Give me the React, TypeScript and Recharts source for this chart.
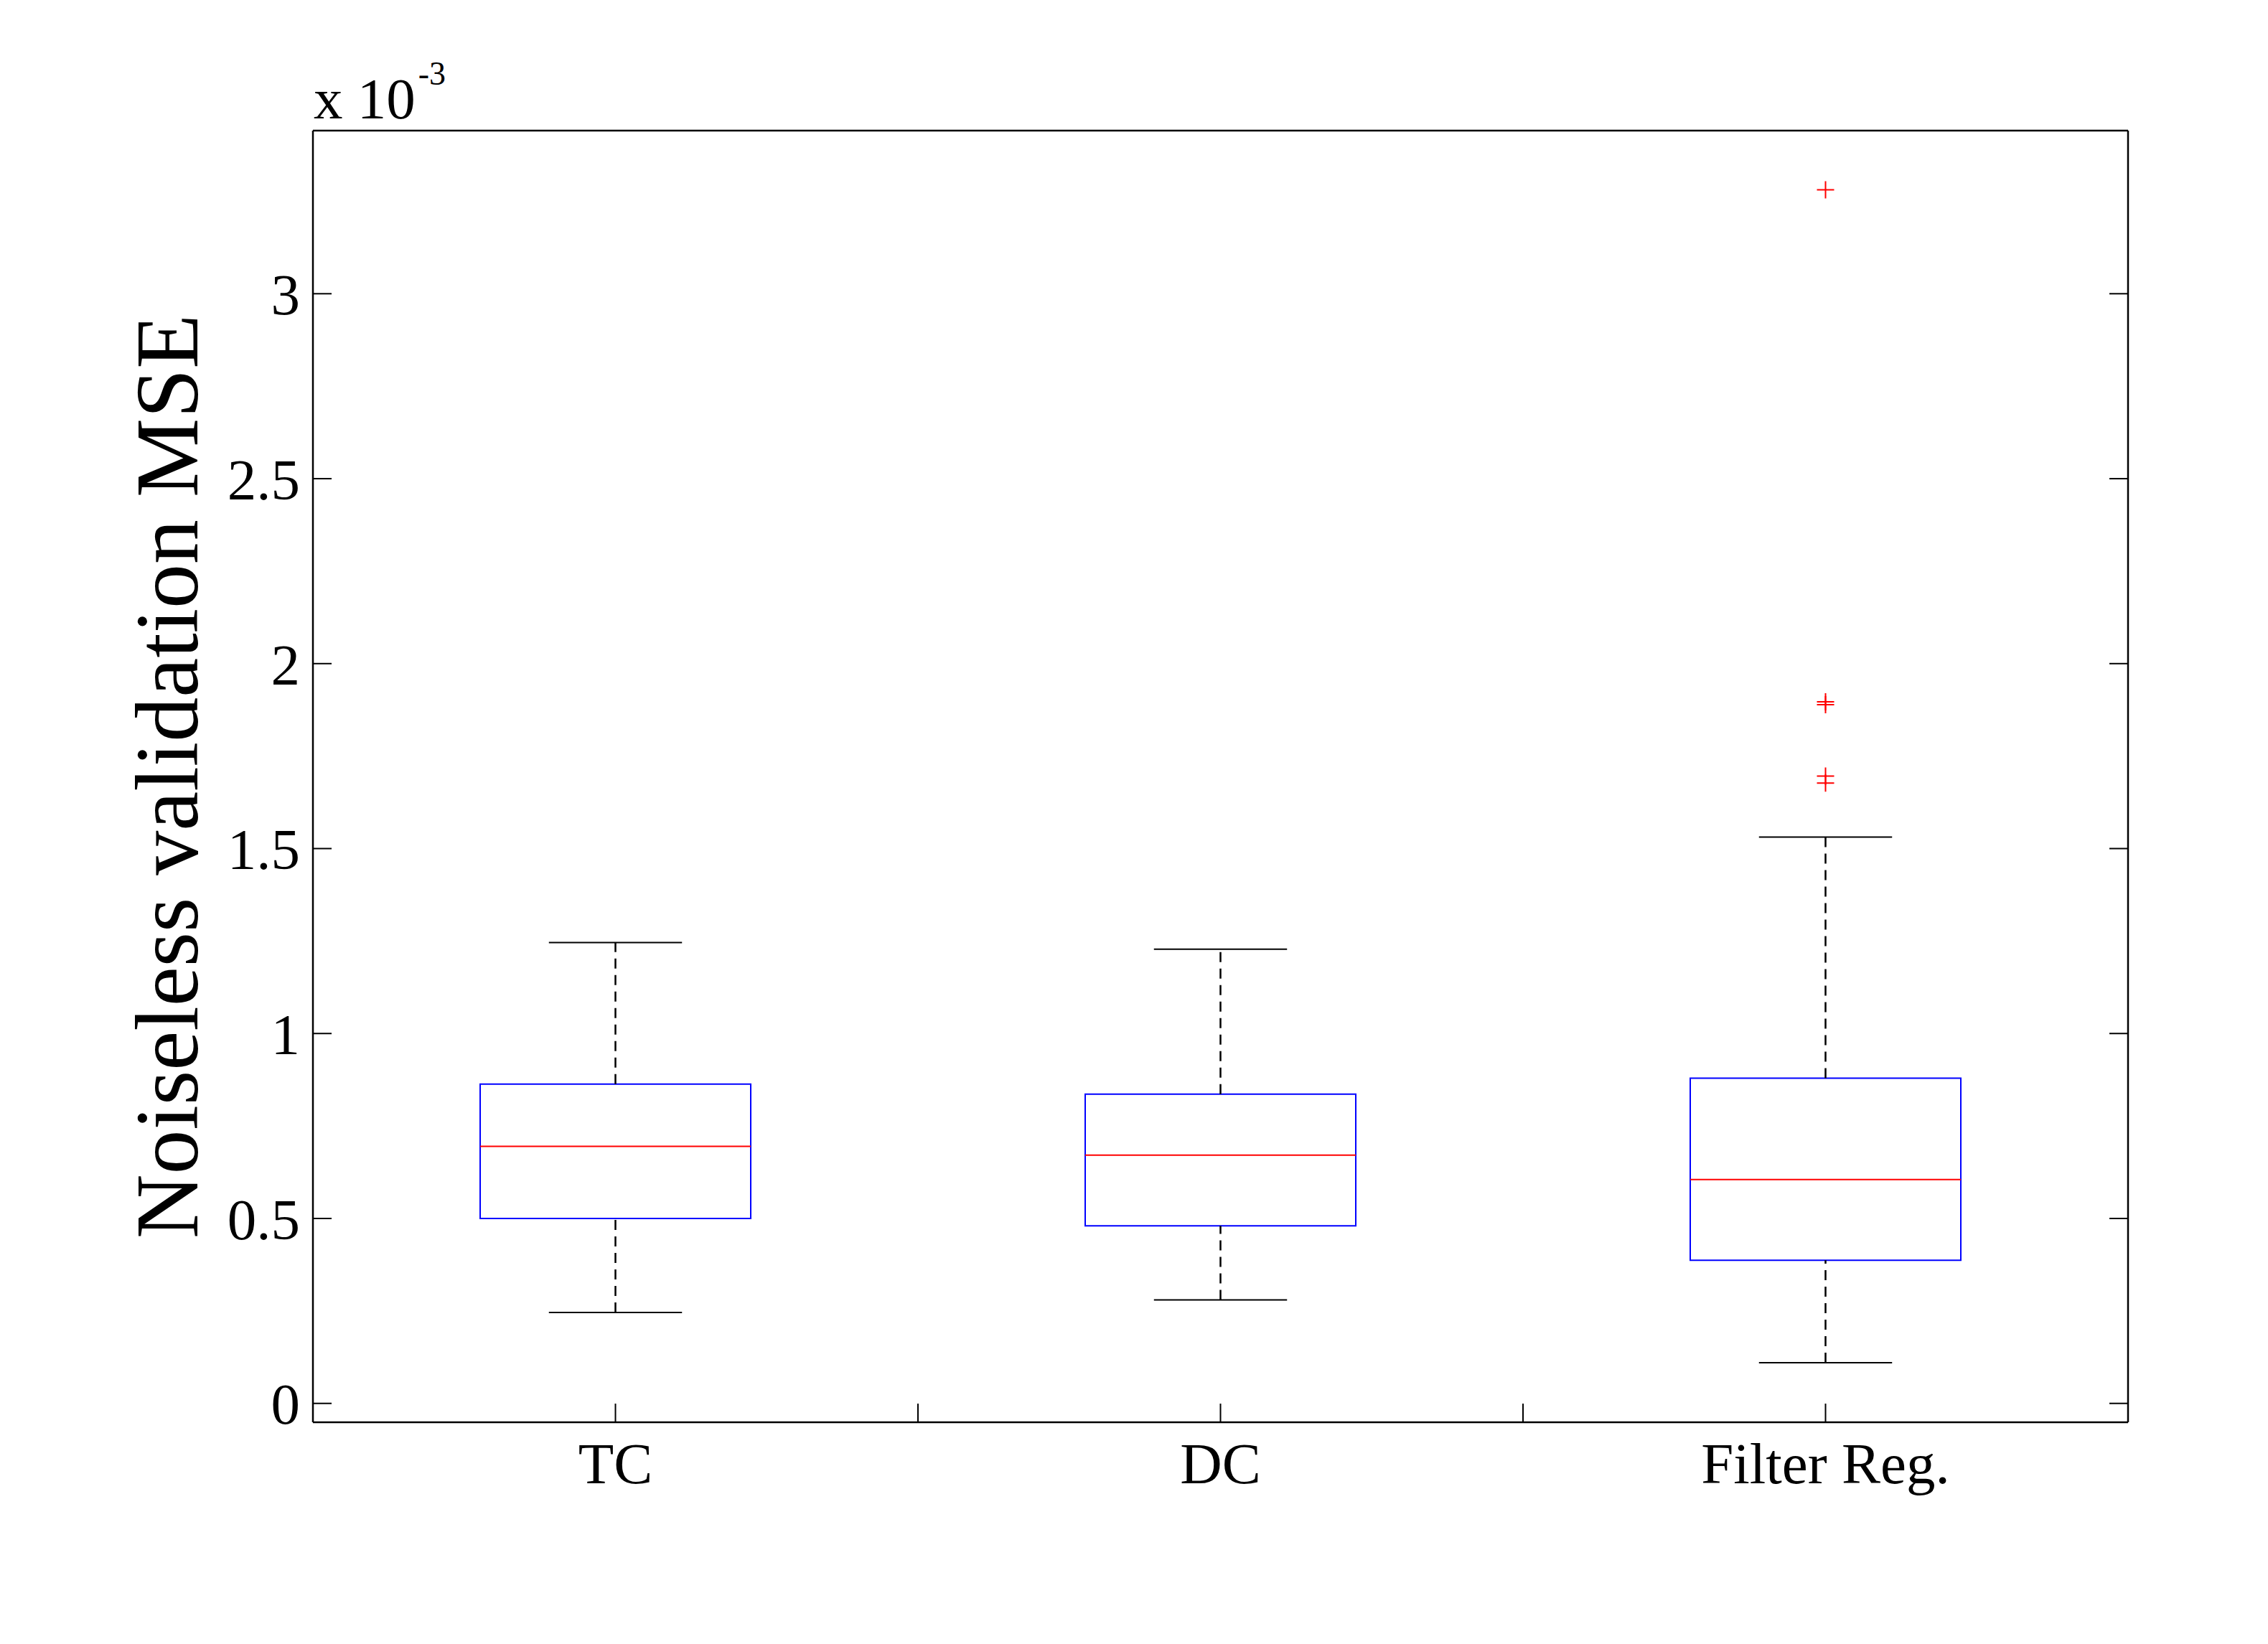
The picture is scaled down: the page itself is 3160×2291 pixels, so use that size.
import React from 'react';
import {
  ScatterChart,
  Scatter,
  XAxis,
  YAxis,
  ReferenceArea,
  ReferenceLine,
  Label,
} from 'recharts';

// ---- data (values in units of 1e-3) ----
const categories = ['TC', 'DC', 'Filter Reg.'];
const groupPositions = [1, 2, 3];
const lowerWhisker = [0.246, 0.280, 0.110];
const quartile1 = [0.500, 0.480, 0.387];
const medians = [0.695, 0.671, 0.605];
const quartile3 = [0.863, 0.836, 0.879];
const upperWhisker = [1.246, 1.228, 1.531];
const outlierGroup = [3, 3, 3, 3, 3];
const outlierValues = [3.281, 1.897, 1.889, 1.696, 1.677];
const yTicks = [0, 0.5, 1, 1.5, 2, 2.5, 3];
const xTicks = [1, 1.5, 2, 2.5, 3];
const yDomain = [-0.051, 3.441];
const xDomain = [0.5, 3.5];

const outliers = outlierValues.map((v, i) => ({ x: outlierGroup[i], y: v }));

const FONT = "'Liberation Serif', 'Times New Roman', serif";
const BOX_HALF = 0.2236;
const CAP_HALF = 0.11;

const xLabel = (v: number) => {
  const idx = groupPositions.indexOf(v);
  return idx >= 0 ? categories[idx] : '';
};

const PlusShape = (props: any) => {
  const { cx, cy } = props;
  if (cx == null || cy == null) return null;
  const h = 12;
  return (
    <path
      d={`M${cx - h},${cy}H${cx + h}M${cx},${cy - h}V${cy + h}`}
      stroke="#ff0000"
      strokeWidth={2}
      fill="none"
    />
  );
};

const YTitle = (props: any) => {
  const vb = props.viewBox || {};
  const cx = (vb.x ?? 427) - 160;
  const cy = (vb.y ?? 174) + (vb.height ?? 1800) / 2;
  return (
    <text
      x={cx}
      y={cy}
      transform={`rotate(-90 ${cx} ${cy})`}
      textAnchor="middle"
      fontFamily={FONT}
      fontSize={124}
      fill="#000"
    >
      Noiseless validation MSE
    </text>
  );
};

const Multiplier = (props: any) => {
  const vb = props.viewBox || {};
  const x = (vb.x ?? 428) + 1;
  const y = (vb.y ?? 173) - 16;
  return (
    <text x={x} y={y} fontFamily={FONT} fontSize={81} fill="#000">
      x 10
      <tspan fontSize={46} dy={-47} dx={4}>
        -3
      </tspan>
    </text>
  );
};

export default function App() {
  const tickStyle = { fontSize: 81, fill: '#000', fontFamily: FONT };
  return (
    <div style={{ width: 3144, height: 2275, background: '#fff' }}>
      <ScatterChart
        width={3144}
        height={2275}
        margin={{ top: 173, right: 186, bottom: 300, left: 427 }}
      >
        <XAxis
          xAxisId="b"
          type="number"
          dataKey="x"
          domain={xDomain}
          ticks={xTicks}
          interval={0}
          allowDataOverflow
          height={1}
          tickSize={-26}
          tickMargin={53}
          tickFormatter={xLabel}
          tick={tickStyle}
          axisLine={{ stroke: '#000', strokeWidth: 2.5 }}
          tickLine={{ stroke: '#000', strokeWidth: 2 }}
        />
        <XAxis
          xAxisId="t"
          orientation="top"
          type="number"
          domain={xDomain}
          ticks={xTicks}
          interval={0}
          allowDataOverflow
          height={1}
          tickSize={-26}
          tickFormatter={() => ''}
          axisLine={{ stroke: '#000', strokeWidth: 2.5 }}
          tickLine={{ stroke: '#000', strokeWidth: 2 }}
        >
          <Label content={Multiplier} />
        </XAxis>
        <YAxis
          yAxisId="l"
          type="number"
          dataKey="y"
          domain={yDomain}
          ticks={yTicks}
          interval={0}
          allowDataOverflow
          width={1}
          tickSize={-26}
          tickMargin={44}
          tick={tickStyle}
          axisLine={{ stroke: '#000', strokeWidth: 2.5 }}
          tickLine={{ stroke: '#000', strokeWidth: 2 }}
        >
          <Label content={YTitle} />
        </YAxis>
        <YAxis
          yAxisId="r"
          orientation="right"
          type="number"
          domain={yDomain}
          ticks={yTicks}
          interval={0}
          allowDataOverflow
          width={1}
          tickSize={-26}
          tickFormatter={() => ''}
          axisLine={{ stroke: '#000', strokeWidth: 2.5 }}
          tickLine={{ stroke: '#000', strokeWidth: 2 }}
        />

        {groupPositions.map((p, i) => (
          <ReferenceLine
            key={`uw${i}`}
            xAxisId="b"
            yAxisId="l"
            segment={[
              { x: p, y: quartile3[i] },
              { x: p, y: upperWhisker[i] },
            ]}
            stroke="#000"
            strokeWidth={2.5}
            strokeDasharray="14 9"
          />
        ))}
        {groupPositions.map((p, i) => (
          <ReferenceLine
            key={`lw${i}`}
            xAxisId="b"
            yAxisId="l"
            segment={[
              { x: p, y: lowerWhisker[i] },
              { x: p, y: quartile1[i] },
            ]}
            stroke="#000"
            strokeWidth={2.5}
            strokeDasharray="14 9"
          />
        ))}
        {groupPositions.map((p, i) => (
          <ReferenceLine
            key={`uc${i}`}
            xAxisId="b"
            yAxisId="l"
            segment={[
              { x: p - CAP_HALF, y: upperWhisker[i] },
              { x: p + CAP_HALF, y: upperWhisker[i] },
            ]}
            stroke="#000"
            strokeWidth={2}
          />
        ))}
        {groupPositions.map((p, i) => (
          <ReferenceLine
            key={`lc${i}`}
            xAxisId="b"
            yAxisId="l"
            segment={[
              { x: p - CAP_HALF, y: lowerWhisker[i] },
              { x: p + CAP_HALF, y: lowerWhisker[i] },
            ]}
            stroke="#000"
            strokeWidth={2}
          />
        ))}
        {groupPositions.map((p, i) => (
          <ReferenceArea
            key={`box${i}`}
            xAxisId="b"
            yAxisId="l"
            x1={p - BOX_HALF}
            x2={p + BOX_HALF}
            y1={quartile1[i]}
            y2={quartile3[i]}
            fill="none"
            fillOpacity={0}
            stroke="#0000ff"
            strokeWidth={2}
          />
        ))}
        {groupPositions.map((p, i) => (
          <ReferenceLine
            key={`med${i}`}
            xAxisId="b"
            yAxisId="l"
            segment={[
              { x: p - BOX_HALF, y: medians[i] },
              { x: p + BOX_HALF, y: medians[i] },
            ]}
            stroke="#ff0000"
            strokeWidth={2}
          />
        ))}
        <Scatter
          xAxisId="b"
          yAxisId="l"
          data={outliers}
          shape={PlusShape}
          isAnimationActive={false}
        />
      </ScatterChart>
    </div>
  );
}
